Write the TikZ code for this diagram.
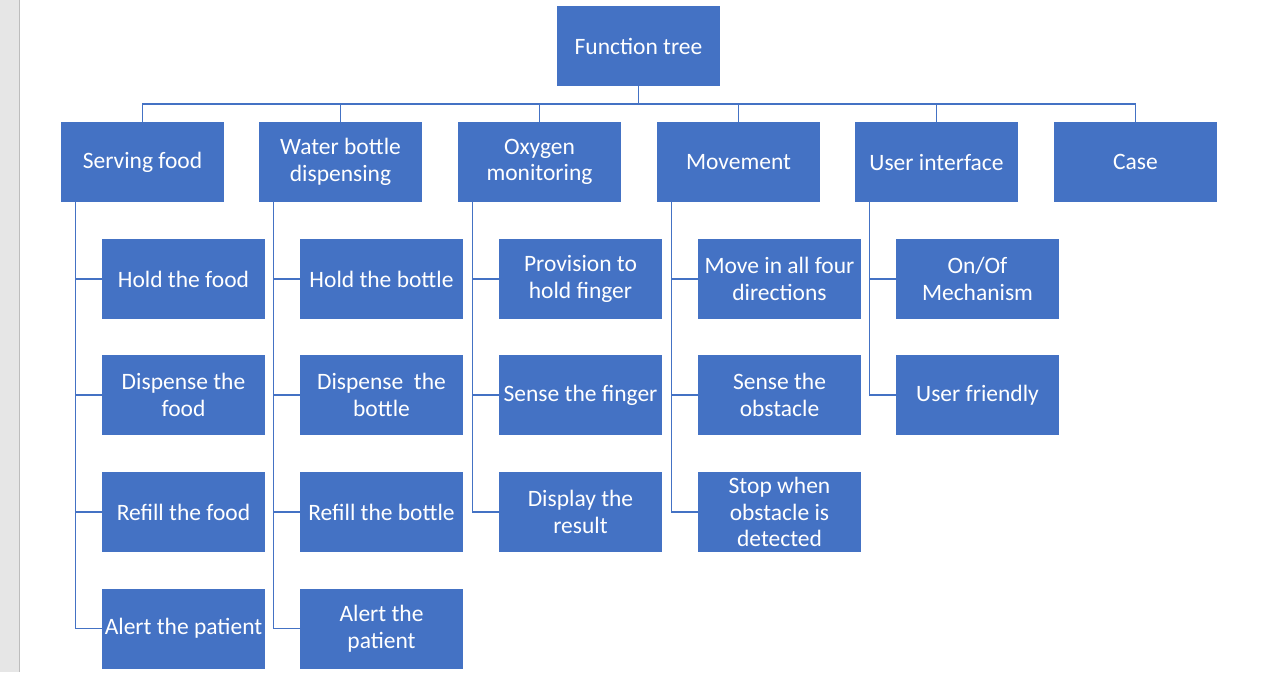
\documentclass[tikz,border=0pt]{standalone}
\usepackage{fontspec}
\setmainfont{Carlito}
\definecolor{boxblue}{HTML}{4472C4}
\definecolor{stripgray}{HTML}{E6E6E6}
\definecolor{stripline}{HTML}{BDBDBD}
\tikzset{
  box/.style={fill=boxblue, text=white, minimum width=163pt, minimum height=80pt,
    inner sep=0pt, align=center, font=\fontsize{23.5}{26.5}\selectfont},
  link/.style={draw=boxblue, line width=1.1pt}
}
\begin{document}
\begin{tikzpicture}[x=1pt,y=-1pt]
\useasboundingbox (0,0) rectangle (1265,672);
\fill[stripgray] (0,0) rectangle (19,672);
\draw[stripline, line width=1.5pt] (19.5,0) -- (19.5,672);
\coordinate (bus) at (0,104);
% root
\node[box] (root) at (638.5,46) {Function tree};
% top level
\node[box] (sf) at (142.5,162) {Serving food};
\node[box] (wb) at (340.5,162) {Water bottle\\dispensing};
\node[box] (om) at (539.5,162) {Oxygen\\monitoring};
\node[box] (mv) at (738.5,162) {Movement};
\node[box] (ui) at (936.5,162) {User interface};
\node[box] (cs) at (1135.5,162) {Case};
\foreach \t in {sf,wb,om,mv,ui,cs}{
  \draw[link] (root.south) -- (root.south |- bus) -| (\t.north);
}
% serving food children
\node[box] (sf1) at (183.5,279) {Hold the food};
\node[box] (sf2) at (183.5,395) {Dispense the\\food};
\node[box] (sf3) at (183.5,512) {Refill the food};
\node[box] (sf4) at (183.5,628.5) {Alert the patient};
% water bottle children
\node[box] (wb1) at (381.5,279) {Hold the bottle};
\node[box] (wb2) at (381.5,395) {Dispense~ the\\bottle};
\node[box] (wb3) at (381.5,512) {Refill the bottle};
\node[box] (wb4) at (381.5,628.5) {Alert the\\patient};
% oxygen children
\node[box] (om1) at (580.5,279) {Provision to\\hold finger};
\node[box] (om2) at (580.5,395) {Sense the finger};
\node[box] (om3) at (580.5,512) {Display the\\result};
% movement children
\node[box] (mv1) at (779.5,279) {Move in all four\\directions};
\node[box] (mv2) at (779.5,395) {Sense the\\obstacle};
\node[box] (mv3) at (779.5,512) {Stop when\\obstacle is\\detected};
% user interface children
\node[box] (ui1) at (977.5,279) {On/Of\\Mechanism};
\node[box] (ui2) at (977.5,395) {User friendly};
% spines
\foreach \p/\cl in {sf/{sf1,sf2,sf3,sf4}, wb/{wb1,wb2,wb3,wb4}, om/{om1,om2,om3}, mv/{mv1,mv2,mv3}, ui/{ui1,ui2}}{
  \foreach \c in \cl {
    \draw[link] ([xshift=15pt]\p.south west) |- (\c.west);
  }
}
\end{tikzpicture}
\end{document}
